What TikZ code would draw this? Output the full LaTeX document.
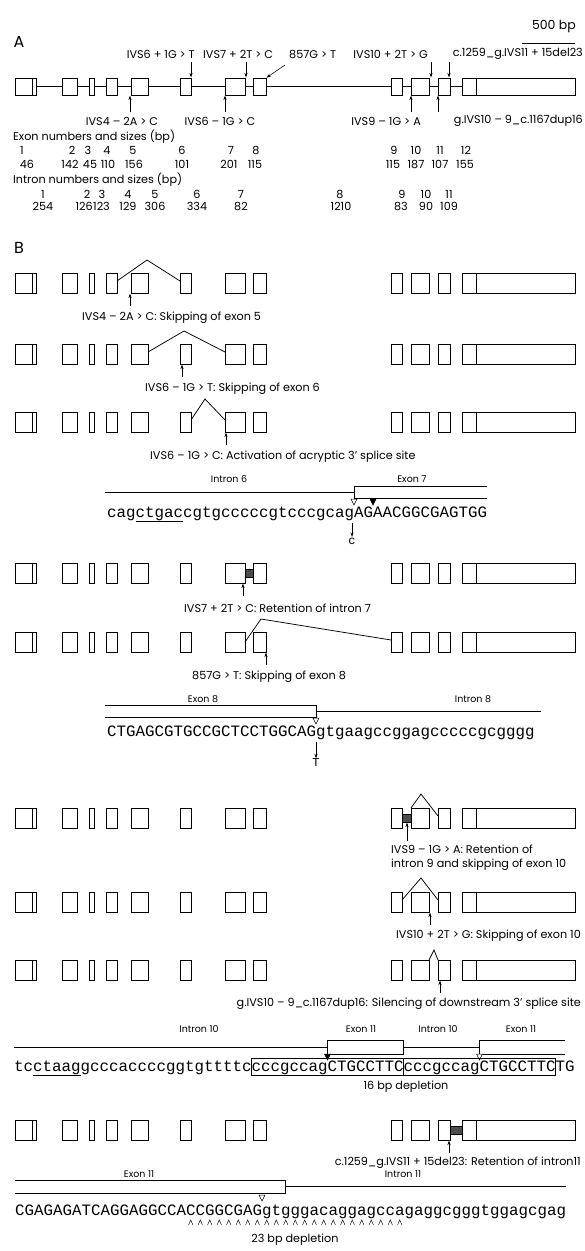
\documentclass[tikz,border=0pt]{standalone}
\usepackage{fontspec}
\setmainfont{Poppins}
\newfontfamily\monofam{Liberation Mono}
\usetikzlibrary{arrows.meta, positioning}

\newcommand\lblfont{\fontsize{11.2}{14}\selectfont}
\newcommand\barfont{\fontsize{9.5}{11}\selectfont}
\newcommand\seqtext{\monofam\fontsize{15.83}{18}\selectfont}
\newcommand\cw{9.5}

% one gene row: twelve exons named <row>e1 ... <row>e12
\newcommand\generow[3]{%
  \foreach \n/\xa/\xb in {1/15/36, 2/62/77, 3/89/94, 4/106/117, 5/131/148, 6/180/191,
                          7/225/245, 8/253/266, 9/391/402, 10/411/429, 11/438/450, 12/462/575}{%
    \pgfmathsetmacro\exw{\xb-\xa}%
    \node[exon, minimum width=\exw pt, minimum height=#3pt] (#1e\n) at ({(\xa+\xb)/2}, #2) {};
  }
  \draw[thin] ([xshift=17pt]#1e1.north west) -- ([xshift=17pt]#1e1.south west);
  \draw[thin] ([xshift=14pt]#1e12.north west) -- ([xshift=14pt]#1e12.south west);
}
% splice-site triangle: apex x, apex y, fill
\newcommand\sitetri[3]{\draw[line width=0.5pt, fill=#3] ({#1-3},{#2-6}) -- ({#1+3},{#2-6}) -- (#1,#2) -- cycle;}

\begin{document}
\begin{tikzpicture}[x=1pt, y=-1pt,
    exon/.style={draw, line width=0.7pt, fill=white, inner sep=0pt, outer sep=0pt},
    lbl/.style={font=\lblfont, inner sep=0pt},
    barlbl/.style={font=\barfont, inner sep=0pt},
    seq/.style={font=\seqtext, inner sep=0pt},
    mut/.style={-{Stealth[length=4.5pt, width=3.2pt]}, line width=0.55pt, shorten >=0.6pt},
    splice/.style={line width=0.75pt},
    retained/.style={draw, line width=0.5pt, fill=black!70, inner sep=0pt, outer sep=0pt, minimum height=8pt},
    bar/.style={line width=0.65pt},
    panel/.style={font=\fontsize{16}{18}\selectfont, inner sep=0pt}
]
\useasboundingbox (0,0) rectangle (584,1251);

% ---------------- Panel A ----------------
\node[lbl, font=\fontsize{12.5}{14}\selectfont, anchor=east] (scaletxt) at (576,26) {500 bp};
\coordinate (sbl) at (522,43);
\coordinate (sbr) at (575,43);
\draw[line width=0.6pt] (sbl) -- (sbr);
\node[panel] (panA) at (19,42) {A};

\generow{A}{86.5}{17}
\foreach \a/\b in {1/2,2/3,3/4,4/5,5/6,6/7,7/8,8/9,9/10,10/11,11/12}
  \draw[line width=0.6pt] (Ae\a.east) -- (Ae\b.west);

% mutations above the gene
\node[lbl, anchor=east] (mIVS6d) at (195,54) {IVS6 + 1G > T};
\node[lbl, anchor=west] (mIVS7d) at (203,54) {IVS7 + 2T > C};
\node[lbl, anchor=west] (m857) at (289,54) {857G > T};
\node[lbl, anchor=east] (mIVS10d) at (428,54) {IVS10 + 2T > G};
\node[lbl, anchor=east] (mdel23) at (583,54) {c.1259\_g.IVS11 + 15del23};
\coordinate (ta1) at (191,62);
\coordinate (ta2) at (246,62);
\coordinate (ta3) at (285,65);
\coordinate (ta4) at (431,62);
\coordinate (ta5) at (449,62);
\draw[mut] (ta1) -- (ta1 |- Ae6.north);
\draw[mut] (ta2) -- (ta2 |- Ae7.north);
\draw[mut] (ta3) -- (Ae8.north east);
\draw[mut] (ta4) -- (ta4 |- Ae10.north);
\draw[mut] (ta5) -- (ta5 |- Ae11.north);

% mutations below the gene
\node[lbl] (mIVS4a) at (122,121) {IVS4 – 2A > C};
\node[lbl] (mIVS6a) at (220,121) {IVS6 – 1G > C};
\node[lbl, anchor=east] (mIVS9a) at (421,121) {IVS9 – 1G > A};
\node[lbl, anchor=east] (mdup16) at (583,121) {g.IVS10 – 9\_c.1167dup16};
\coordinate (ba1) at (130,112);
\coordinate (ba2) at (225,112);
\coordinate (ba3) at (411,112);
\coordinate (ba4) at (438,112);
\draw[mut] (ba1) -- (ba1 |- Ae5.south);
\draw[mut] (ba2) -- (ba2 |- Ae7.south);
\draw[mut] (ba3) -- (ba3 |- Ae10.south);
\draw[mut] (ba4) -- (ba4 |- Ae11.south);

% exon and intron table
\node[lbl, anchor=west] (exhead) at (13,137) {Exon numbers and sizes (bp)};
\foreach \t/\xx in {1/22, 2/72, 3/88, 4/107, 5/133, 6/182, 7/231, 8/256, 9/394, 10/416, 11/440, 12/466}
  \node[lbl] (exn\t) at (\xx,150) {\t};
\foreach \i/\t/\xx in {1/46/27, 2/142/70, 3/45/90, 4/110/108, 5/156/134, 6/101/182, 7/201/229, 8/115/255,
                       9/115/393, 10/187/416, 11/107/440, 12/155/465}
  \node[lbl] (exs\i) at (\xx,164) {\t};
\node[lbl, anchor=west] (inhead) at (13,180) {Intron numbers and sizes (bp)};
\foreach \t/\xx in {1/43, 2/87, 3/102, 4/128, 5/155, 6/197, 7/241, 8/340, 9/402, 10/426, 11/449}
  \node[lbl] (inn\t) at (\xx,194) {\t};
\node[lbl] (ins1) at (43,206) {254};
\node[lbl, anchor=east] (ins2) at (93,206) {126};
\node[lbl, anchor=west] (ins3) at (93,206) {123};
\foreach \i/\t/\xx in {4/129/128, 5/306/155, 6/334/197, 7/82/241, 8/1210/341, 9/83/401, 10/90/426, 11/109/449}
  \node[lbl] (ins\i) at (\xx,206) {\t};

% ---------------- Panel B ----------------
\node[panel] (panB) at (19,248) {B};

% IVS4-2A>C
\generow{r1}{283}{20}
\coordinate (r1pk) at (147,260);
\draw[splice] ([yshift=-8pt]r1e4.north east) -- (r1pk) -- ([yshift=-8pt]r1e6.north west);
\coordinate (r1m) at (130,306);
\draw[mut] (r1m) -- (r1m |- r1e5.south);
\node[lbl, anchor=west] (r1lbl) at (82,318) {IVS4 – 2A > C: Skipping of exon 5};

% IVS6-1G>T
\generow{r2}{354}{20}
\coordinate (r2pk) at (184,331);
\draw[splice] ([yshift=-8pt]r2e5.north east) -- (r2pk) -- ([yshift=-8pt]r2e7.north west);
\coordinate (r2m) at (182,377);
\draw[mut] (r2m) -- (r2m |- r2e6.south);
\node[lbl, anchor=west] (r2lbl) at (145,389) {IVS6 – 1G > T: Skipping of exon 6};

% IVS6-1G>C
\generow{r3}{422}{20}
\coordinate (r3pk) at (205,399);
\draw[splice] ([yshift=-8pt]r3e6.north east) -- (r3pk) -- ([yshift=-8pt]r3e7.north west);
\coordinate (r3m) at (226,445);
\draw[mut] (r3m) -- (r3m |- r3e7.south);
\node[lbl, anchor=west] (r3lbl) at (150,457) {IVS6 – 1G > C: Activation of acryptic 3’ splice site};

% intron 6 / exon 7 sequence
\node[barlbl] (i6lbl) at (229,479) {Intron 6};
\node[barlbl] (e7lbl) at (412,479) {Exon 7};
\coordinate (i6a) at (105,492);
\coordinate (i6b) at ({107+26*\cw},492);
\draw[bar] (i6a) -- (i6b);
\draw[bar] ({107+40*\cw},486) -- ({107+26*\cw},486) -- ({107+26*\cw},498) -- ({107+40*\cw},498);
\sitetri{107+26*\cw}{505}{white}
\sitetri{107+28*\cw}{505}{black}
\node[seq, anchor=base west] (i6seq) at (107,517) {cagctgaccgtgcccccgtcccgcagAGAACGGCGAGTGG};
\draw[line width=1pt] ({107+3*\cw},521) -- ({107+8*\cw},521);
\coordinate (i6m) at ({107+26*\cw-2},523);
\node[seq, font=\monofam\fontsize{12}{14}\selectfont] (i6alt) at ({107+26*\cw-2},541) {c};
\draw[mut] (i6m) -- (i6alt.north);

% IVS7+2T>C
\generow{r4}{573}{20}
\node[retained, minimum width=8pt] (r4i7) at (249,573) {};
\coordinate (r4m) at (243,596);
\draw[mut] (r4m) -- (r4m |- r4e7.south);
\node[lbl, anchor=west] (r4lbl) at (184,608) {IVS7 + 2T > C: Retention of intron 7};

% 857G>T
\generow{r5}{642}{20}
\coordinate (r5pk) at (261,619);
\draw[splice] (r5e7.east) -- (r5pk) -- ([yshift=-8pt]r5e9.north west);
\coordinate (r5m) at (266,665);
\draw[mut] (r5m) -- (r5m |- r5e8.south);
\node[lbl, anchor=west] (r5lbl) at (192,677) {857G > T: Skipping of exon 8};

% exon 8 / intron 8 sequence
\node[barlbl] (e8lbl) at (203,699) {Exon 8};
\node[barlbl] (i8lbl) at (473,699) {Intron 8};
\draw[bar] (105,705) -- ({107+22*\cw},705) -- ({107+22*\cw},717) -- (105,717);
\coordinate (i8a) at ({107+22*\cw},711);
\coordinate (i8b) at (541,711);
\draw[bar] (i8a) -- (i8b);
\sitetri{107+22*\cw}{724}{white}
\node[seq, anchor=base west] (e8seq) at (107,736) {CTGAGCGTGCCGCTCCTGGCAGgtgaagccggagcccccgcgggg};
\coordinate (e8m) at ({107+22*\cw},742);
\node[seq, font=\monofam\fontsize{12}{14}\selectfont] (e8alt) at ({107+22*\cw},763) {T};
\draw[mut] (e8m) -- (e8alt.north);

% IVS9-1G>A
\generow{r6}{818}{20}
\node[retained, minimum width=9pt] (r6i9) at (406.5,818) {};
\coordinate (r6pk) at (421,794);
\draw[splice] (r6e10.north west) -- (r6pk) -- ([yshift=-8pt]r6e11.north west);
\coordinate (r6m) at (407,841);
\draw[mut] (r6m) -- (r6m |- r6i9.south);
\node[lbl, anchor=north west, align=left] (r6lbl) at (391,845) {IVS9 – 1G > A: Retention of\\intron 9 and skipping of exon 10};

% IVS10+2T>G
\generow{r7}{902}{20}
\coordinate (r7pk) at (421,878);
\draw[splice] ([yshift=-8pt]r7e9.north east) -- (r7pk) -- ([yshift=-8pt]r7e11.north west);
\coordinate (r7m) at (430,925);
\draw[mut] (r7m) -- (r7m |- r7e10.south);
\node[lbl, anchor=east] (r7lbl) at (581,936) {IVS10 + 2T > G: Skipping of exon 10};

% g.IVS10-9_c.1167dup16
\generow{r8}{970}{20}
\coordinate (r8pk) at (434,950);
\draw[splice] (r8e10.north east) -- (r8pk) -- (r8e11.north west);
\coordinate (r8m) at (440,993);
\draw[mut] (r8m) -- (r8m |- r8e11.south);
\node[lbl, anchor=east] (r8lbl) at (581,1004) {g.IVS10 – 9\_c.1167dup16: Silencing of downstream 3’ splice site};

% intron 10 / exon 11 duplication
\node[barlbl] (i10lbl) at (199,1029) {Intron 10};
\node[barlbl] (e11lbl) at (361,1029) {Exon 11};
\node[barlbl] (i10lblb) at (438,1029) {Intron 10};
\node[barlbl] (e11lblb) at (521,1029) {Exon 11};
\coordinate (i10a) at (14,1047);
\coordinate (i10b) at ({14+33*\cw},1047);
\draw[bar] (i10a) -- (i10b);
\draw[bar] ({14+33*\cw},1040) rectangle ({14+41*\cw},1054);
\coordinate (i10c) at ({14+41*\cw},1047);
\coordinate (i10d) at ({14+49*\cw},1047);
\draw[bar] (i10c) -- (i10d);
\draw[bar] (565,1040) -- ({14+49*\cw},1040) -- ({14+49*\cw},1054) -- (565,1054);
\sitetri{14+33*\cw}{1060}{black}
\sitetri{14+49*\cw}{1060}{white}
\node[seq, anchor=base west] (i10seq) at (14,1071) {tcctaaggcccaccccggtgttttccccgccagCTGCCTTCcccgccagCTGCCTTCTG};
\draw[line width=0.5pt] ({14+25*\cw},1058) rectangle ({14+41*\cw},1075);
\draw[line width=0.5pt] ({14+41*\cw},1058) rectangle ({14+57*\cw},1075);
\draw[line width=1pt] ({14+2*\cw},1075) -- ({14+7*\cw},1075);
\node[lbl] (dep16) at (406,1087) {16 bp depletion};

% c.1259_g.IVS11+15del23
\generow{r9}{1130}{20}
\node[retained, minimum width=12pt] (r9i11) at (456,1130) {};
\coordinate (r9m) at (449,1153);
\draw[mut] (r9m) -- (r9m |- r9e11.south);
\node[lbl, anchor=east] (r9lbl) at (581,1163) {c.1259\_g.IVS11 + 15del23: Retention of intron11};

% exon 11 / intron 11 sequence
\node[barlbl] (e11lblc) at (139,1174) {Exon 11};
\node[barlbl] (i11lbl) at (403,1174) {Intron 11};
\draw[bar] (15,1180) -- ({15+28.5*\cw},1180) -- ({15+28.5*\cw},1193) -- (15,1193);
\coordinate (i11a) at ({15+28.5*\cw},1186.5);
\coordinate (i11b) at (566,1186.5);
\draw[bar] (i11a) -- (i11b);
\sitetri{15+26*\cw}{1201}{white}
\node[seq, anchor=base west] (e11seq) at (15,1215) {CGAGAGATCAGGAGGCCACCGGCGAGgtgggacaggagccagaggcgggtggagcgag};
\foreach \i in {18,...,40}
  \draw[line width=0.45pt] ({15+(\i+0.5)*\cw-2.2},1225) -- ({15+(\i+0.5)*\cw},1220) -- ({15+(\i+0.5)*\cw+2.2},1225);
\node[lbl] (dep23) at (295,1240) {23 bp depletion};

\end{tikzpicture}
\end{document}
